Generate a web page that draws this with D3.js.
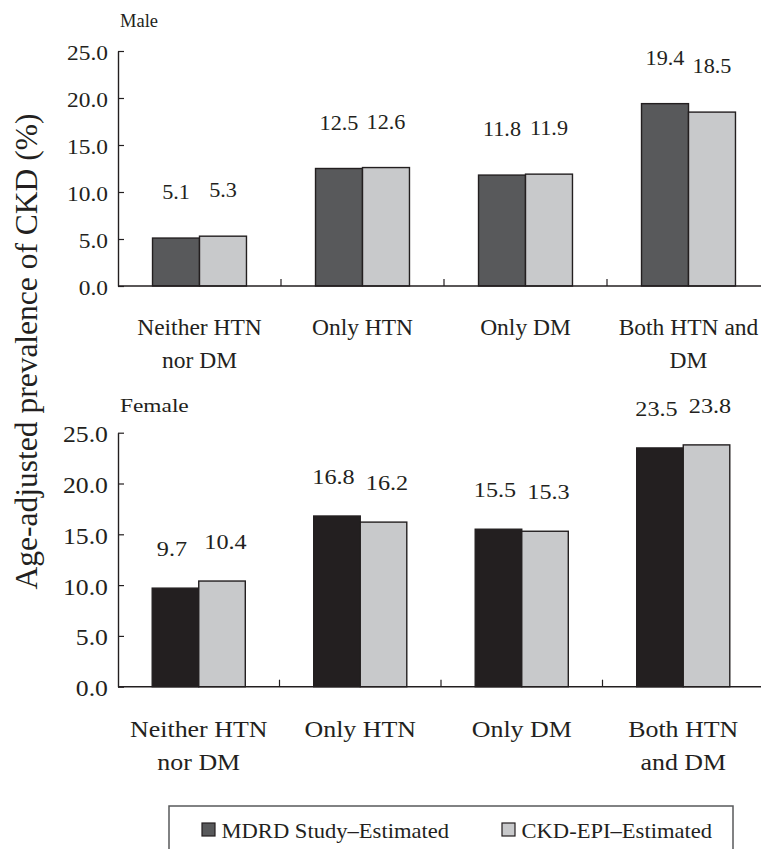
<!DOCTYPE html>
<html>
<head>
<meta charset="utf-8">
<script src="https://cdn.jsdelivr.net/npm/d3@7"></script>
<style>
  html, body { margin: 0; padding: 0; background: #fff; }
  svg { display: block; }
  svg text { font-family: "Liberation Serif", "Times New Roman", Times, serif !important; fill: #231f20; }
</style>
</head>
<body>
<svg id="chart" width="761" height="849"></svg>
<script>
// ---- Data ----
const seriesNames = ["MDRD Study\u2013Estimated", "CKD-EPI\u2013Estimated"];
const categoryKeys = ["neither", "onlyHTN", "onlyDM", "both"];
const maleCategoryLabels = [["Neither HTN", "nor DM"], ["Only HTN"], ["Only DM"], ["Both HTN and", "DM"]];
const femaleCategoryLabels = [["Neither HTN", "nor DM"], ["Only HTN"], ["Only DM"], ["Both HTN", "and DM"]];
const maleMDRD = [5.1, 12.5, 11.8, 19.4];
const maleCKDEPI = [5.3, 12.6, 11.9, 18.5];
const femaleMDRD = [9.7, 16.8, 15.5, 23.5];
const femaleCKDEPI = [10.4, 16.2, 15.3, 23.8];
const yTickValues = [0, 5, 10, 15, 20, 25];
const panelTitles = ["Male", "Female"];
const yAxisTitle = "Age-adjusted prevalence of CKD (%)";

// ---- Drawing ----
const FONT = '"Liberation Serif", "Times New Roman", Times, serif';
const svg = d3.select("#chart");
const ink = "#231f20";
const lightFill = "#c8c9cb";

function txt(g, x, y, s, size, sx, anchor) {
  return g.append("text")
    .attr("transform", `translate(${x},${y}) scale(${sx},1)`)
    .attr("text-anchor", anchor || "middle")
    .attr("font-family", FONT)
    .style("font-family", FONT)
    .style("font-size", size + "px")
    .text(s);
}

function drawPanel(cfg) {
  const g = svg.append("g");
  const y = d3.scaleLinear().domain([0, 25]).range([cfg.y0, cfg.y1]);
  const x = d3.scaleBand().domain(categoryKeys).range([cfg.x0, cfg.x1]).padding(0);
  const xs = d3.scaleBand().domain([0, 1]).range([0, x.bandwidth()]).paddingInner(0).paddingOuter(0.735);
  const fills = [cfg.darkFill, lightFill];
  const series = [cfg.a, cfg.b];

  // bars
  series.forEach((vals, si) => {
    g.selectAll(null).data(vals).enter().append("rect")
      .attr("x", (d, i) => x(categoryKeys[i]) + xs(si))
      .attr("y", d => y(d))
      .attr("width", xs.bandwidth())
      .attr("height", d => y(0) - y(d))
      .attr("fill", fills[si])
      .attr("stroke", ink)
      .attr("stroke-width", 1.4);
  });

  // value labels
  series.forEach((vals, si) => {
    const spread = (si === 0 ? -1 : 1) * cfg.labelSpread;
    vals.forEach((v, i) => {
      txt(g, x(categoryKeys[i]) + xs(si) + xs.bandwidth() / 2 + spread, y(v) - cfg.labelOffset,
        v.toFixed(1), cfg.valSize, cfg.valSx, "middle");
    });
  });

  // y axis
  const ax = g.append("g").attr("transform", `translate(${cfg.x0},0)`)
    .call(d3.axisLeft(y).tickValues(yTickValues).tickSizeInner(-6).tickSizeOuter(0).tickPadding(10)
      .tickFormat(d3.format(".1f")));
  ax.attr("font-family", FONT);
  ax.select(".domain").attr("stroke", ink).attr("stroke-width", 1.4);
  ax.selectAll(".tick line").attr("stroke", ink).attr("stroke-width", 1.2);
  ax.selectAll(".tick text")
    .attr("fill", ink)
    .attr("font-family", FONT)
    .style("font-family", FONT)
    .style("font-size", cfg.tickSize + "px")
    .attr("dy", null)
    .attr("x", null)
    .attr("transform", `translate(-10,${cfg.tickDy}) scale(${cfg.tickSx},1)`);

  // x axis line and category boundary ticks
  g.append("line").attr("x1", cfg.x0).attr("x2", cfg.x1).attr("y1", y(0)).attr("y2", y(0))
    .attr("stroke", ink).attr("stroke-width", 1.4);
  categoryKeys.slice(1).forEach(k => {
    g.append("line").attr("x1", x(k)).attr("x2", x(k)).attr("y1", y(0)).attr("y2", y(0) - 7)
      .attr("stroke", ink).attr("stroke-width", 1.2);
  });

  // category labels
  cfg.labels.forEach((lines, i) => {
    lines.forEach((ln, li) => {
      txt(g, x(categoryKeys[i]) + x.bandwidth() / 2, cfg.catY + li * 33, ln, cfg.catSize, cfg.catSx, "middle");
    });
  });

  // panel title
  txt(g, cfg.titleX, cfg.titleY, cfg.title, cfg.titleSize, cfg.titleSx, "start");
}

drawPanel({
  x0: 118, x1: 770, y0: 286, y1: 51, darkFill: "#58595b",
  a: maleMDRD, b: maleCKDEPI, labels: maleCategoryLabels,
  labelOffset: 39, labelSpread: 0, valSize: 20, valSx: 1.11,
  tickSize: 20, tickSx: 1.17, tickDy: 8,
  catY: 335, catSize: 23.5, catSx: 1.0,
  title: panelTitles[0], titleX: 120, titleY: 27, titleSize: 18.5, titleSx: 1.0
});

drawPanel({
  x0: 118, x1: 764, y0: 686.7, y1: 432.7, darkFill: "#231f20",
  a: femaleMDRD, b: femaleCKDEPI, labels: femaleCategoryLabels,
  labelOffset: 32, labelSpread: 3.5, valSize: 22, valSx: 1.1,
  tickSize: 23, tickSx: 1.12, tickDy: 9,
  catY: 736.7, catSize: 24, catSx: 1.08,
  title: panelTitles[1], titleX: 120, titleY: 412, titleSize: 19, titleSx: 1.23
});

// y axis title
svg.append("text")
  .attr("transform", "translate(37,351.5) rotate(-90)")
  .attr("text-anchor", "middle")
  .attr("font-family", FONT)
  .style("font-family", FONT)
  .style("font-size", "31.5px")
  .text(yAxisTitle);

// legend
const lg = svg.append("g");
lg.append("rect").attr("x", 169).attr("y", 806).attr("width", 564).attr("height", 60)
  .attr("fill", "none").attr("stroke", "#58595b").attr("stroke-width", 1.5);
const legendFills = ["#58595b", lightFill];
const legendX = [202, 502];
seriesNames.forEach((name, i) => {
  lg.append("rect").attr("x", legendX[i]).attr("y", 823).attr("width", 13).attr("height", 13)
    .attr("fill", legendFills[i]).attr("stroke", ink).attr("stroke-width", 1.2);
  txt(lg, legendX[i] + 19.5, 838, name, 21, 1.075, "start");
});
</script>
</body>
</html>
